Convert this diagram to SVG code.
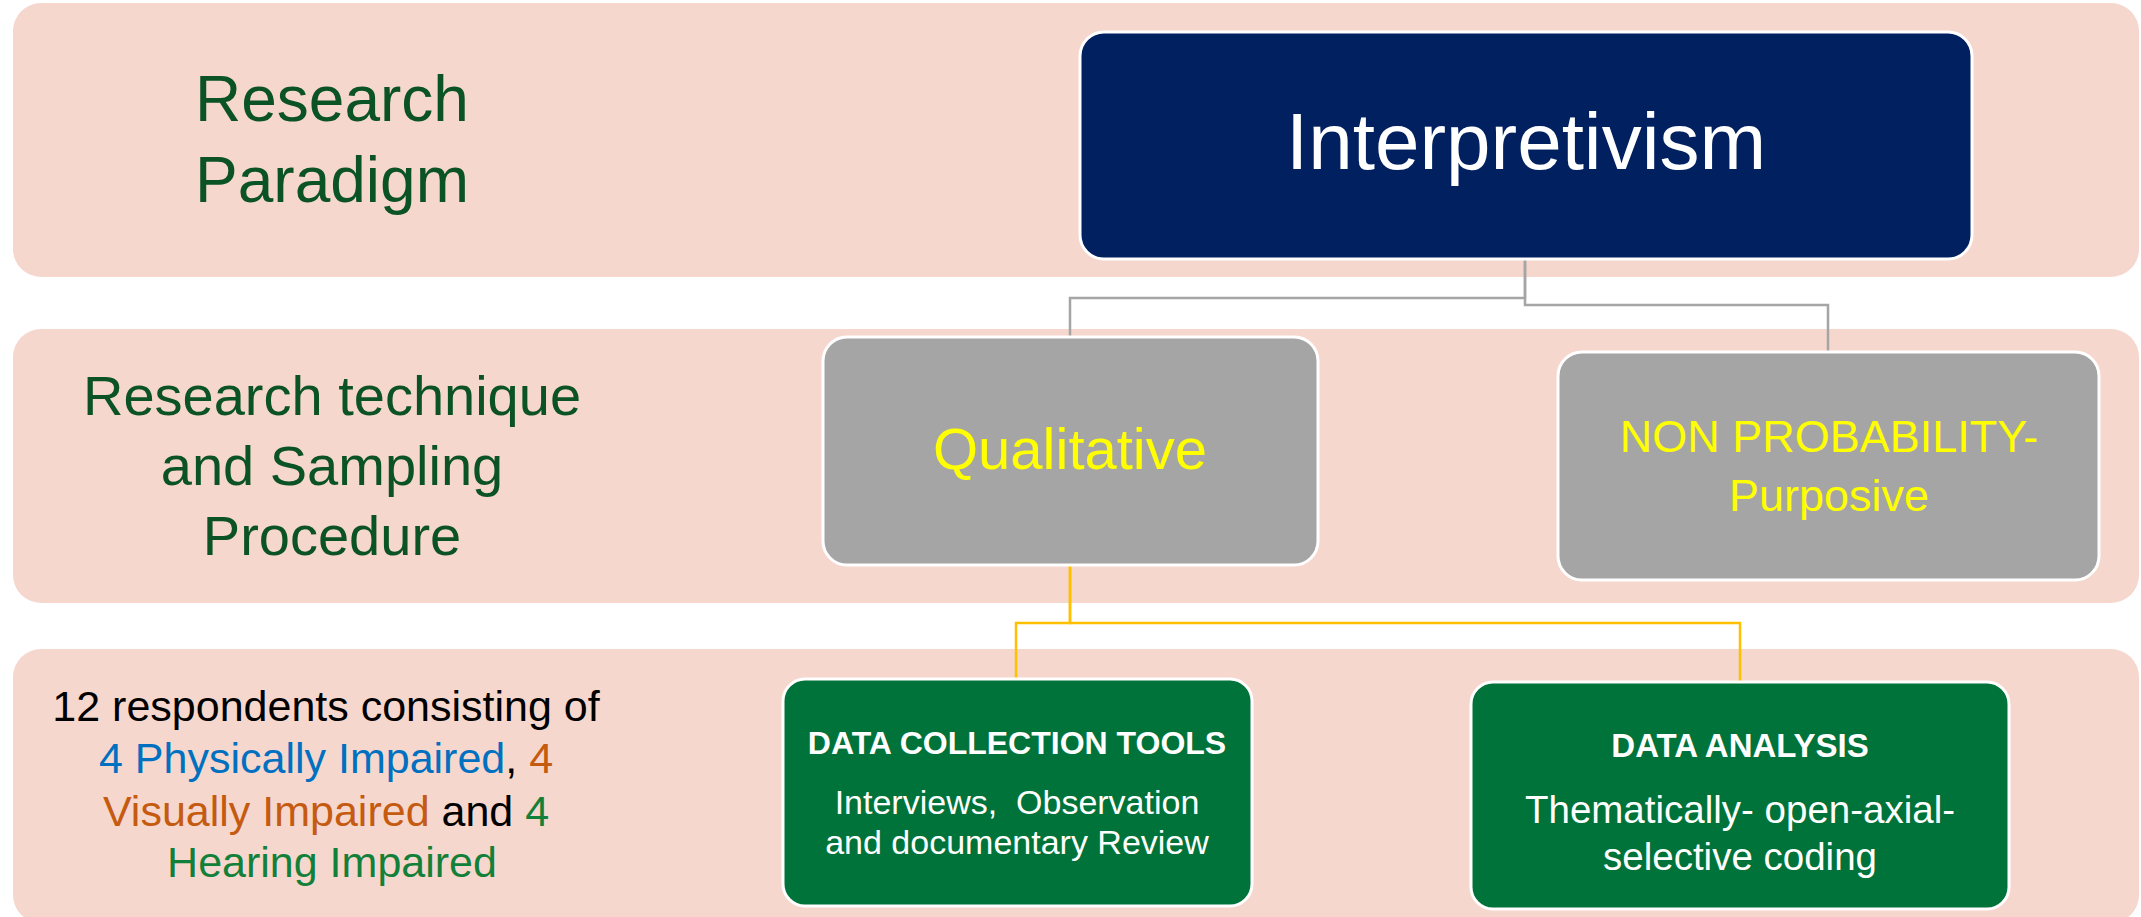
<svg xmlns="http://www.w3.org/2000/svg" width="2141" height="917" viewBox="0 0 2141 917">
  <style>
    .band { fill: #F6D7CD; }
    .txt { font-family: "Liberation Sans", Arial, sans-serif; text-anchor: middle; }
    .lbl { fill: #0B5224; }
    .node { stroke: #FFFFFF; stroke-width: 3; }
    .navy { fill: #002060; }
    .gray { fill: #A5A5A5; }
    .green { fill: #00733A; }
    .conn-gray { fill: none; stroke: #A5A5A5; stroke-width: 2.5; }
    .conn-yel { fill: none; stroke: #FFC000; stroke-width: 2.5; }
  </style>
  <rect width="2141" height="917" fill="#FFFFFF"/>

  <g id="bands">
    <rect class="band" x="13" y="3" width="2126" height="274" rx="28" ry="28"/>
    <rect class="band" x="13" y="329" width="2126" height="274" rx="28" ry="28"/>
    <rect class="band" x="13" y="649" width="2126" height="274" rx="28" ry="28"/>
  </g>

  <g id="row-labels">
    <text class="txt lbl" font-size="64"><tspan x="332" y="121">Research</tspan><tspan x="332" y="202">Paradigm</tspan></text>
    <text class="txt lbl" font-size="56"><tspan x="332" y="415">Research technique</tspan><tspan x="332" y="485">and Sampling</tspan><tspan x="332" y="555">Procedure</tspan></text>
    <text class="txt" font-size="43" fill="#000000">
      <tspan x="332" y="721">12 respondents consisting of</tspan>
      <tspan x="332" y="773"><tspan fill="#0070C0">4 Physically Impaired</tspan>, <tspan fill="#C55A11">4</tspan></tspan>
      <tspan x="332" y="826"><tspan fill="#C55A11">Visually Impaired</tspan> and <tspan fill="#138039">4</tspan></tspan>
      <tspan x="332" y="877" fill="#138039">Hearing Impaired</tspan>
    </text>
  </g>

  <g id="connectors">
    <path class="conn-gray" d="M1525,259 V298 H1070 V337"/>
    <path class="conn-gray" d="M1525,259 V305 H1828 V352"/>
    <path class="conn-yel" d="M1070,565 V623 H1016 V679"/>
    <path class="conn-yel" d="M1070,565 V623 H1740 V682"/>
  </g>

  <g id="node-interpretivism">
    <rect class="node navy" x="1080" y="32" width="892" height="227" rx="24" ry="24"/>
    <text class="txt" x="1526" y="169" font-size="80" fill="#FFFFFF">Interpretivism</text>
  </g>

  <g id="node-qualitative">
    <rect class="node gray" x="823" y="337" width="495" height="228" rx="24" ry="24"/>
    <text class="txt" x="1070" y="469" font-size="58" fill="#FFFF00">Qualitative</text>
  </g>

  <g id="node-nonprobability">
    <rect class="node gray" x="1558" y="352" width="541" height="228" rx="24" ry="24"/>
    <text class="txt" font-size="45" fill="#FFFF00"><tspan x="1829" y="452">NON PROBABILITY-</tspan><tspan x="1829" y="511">Purposive</tspan></text>
  </g>

  <g id="node-data-collection">
    <rect class="node green" x="783" y="679" width="469" height="227" rx="22" ry="22"/>
    <text class="txt" x="1017" y="754" font-size="32" font-weight="bold" fill="#FFFFFF">DATA COLLECTION TOOLS</text>
    <text class="txt" font-size="34" fill="#FFFFFF" xml:space="preserve"><tspan x="1017" y="814">Interviews,  Observation</tspan><tspan x="1017" y="854">and documentary Review</tspan></text>
  </g>

  <g id="node-data-analysis">
    <rect class="node green" x="1471" y="682" width="538" height="227" rx="22" ry="22"/>
    <text class="txt" x="1740" y="757" font-size="33" font-weight="bold" fill="#FFFFFF">DATA ANALYSIS</text>
    <text class="txt" font-size="38.5" fill="#FFFFFF"><tspan x="1740" y="823">Thematically- open-axial-</tspan><tspan x="1740" y="870">selective coding</tspan></text>
  </g>
</svg>
